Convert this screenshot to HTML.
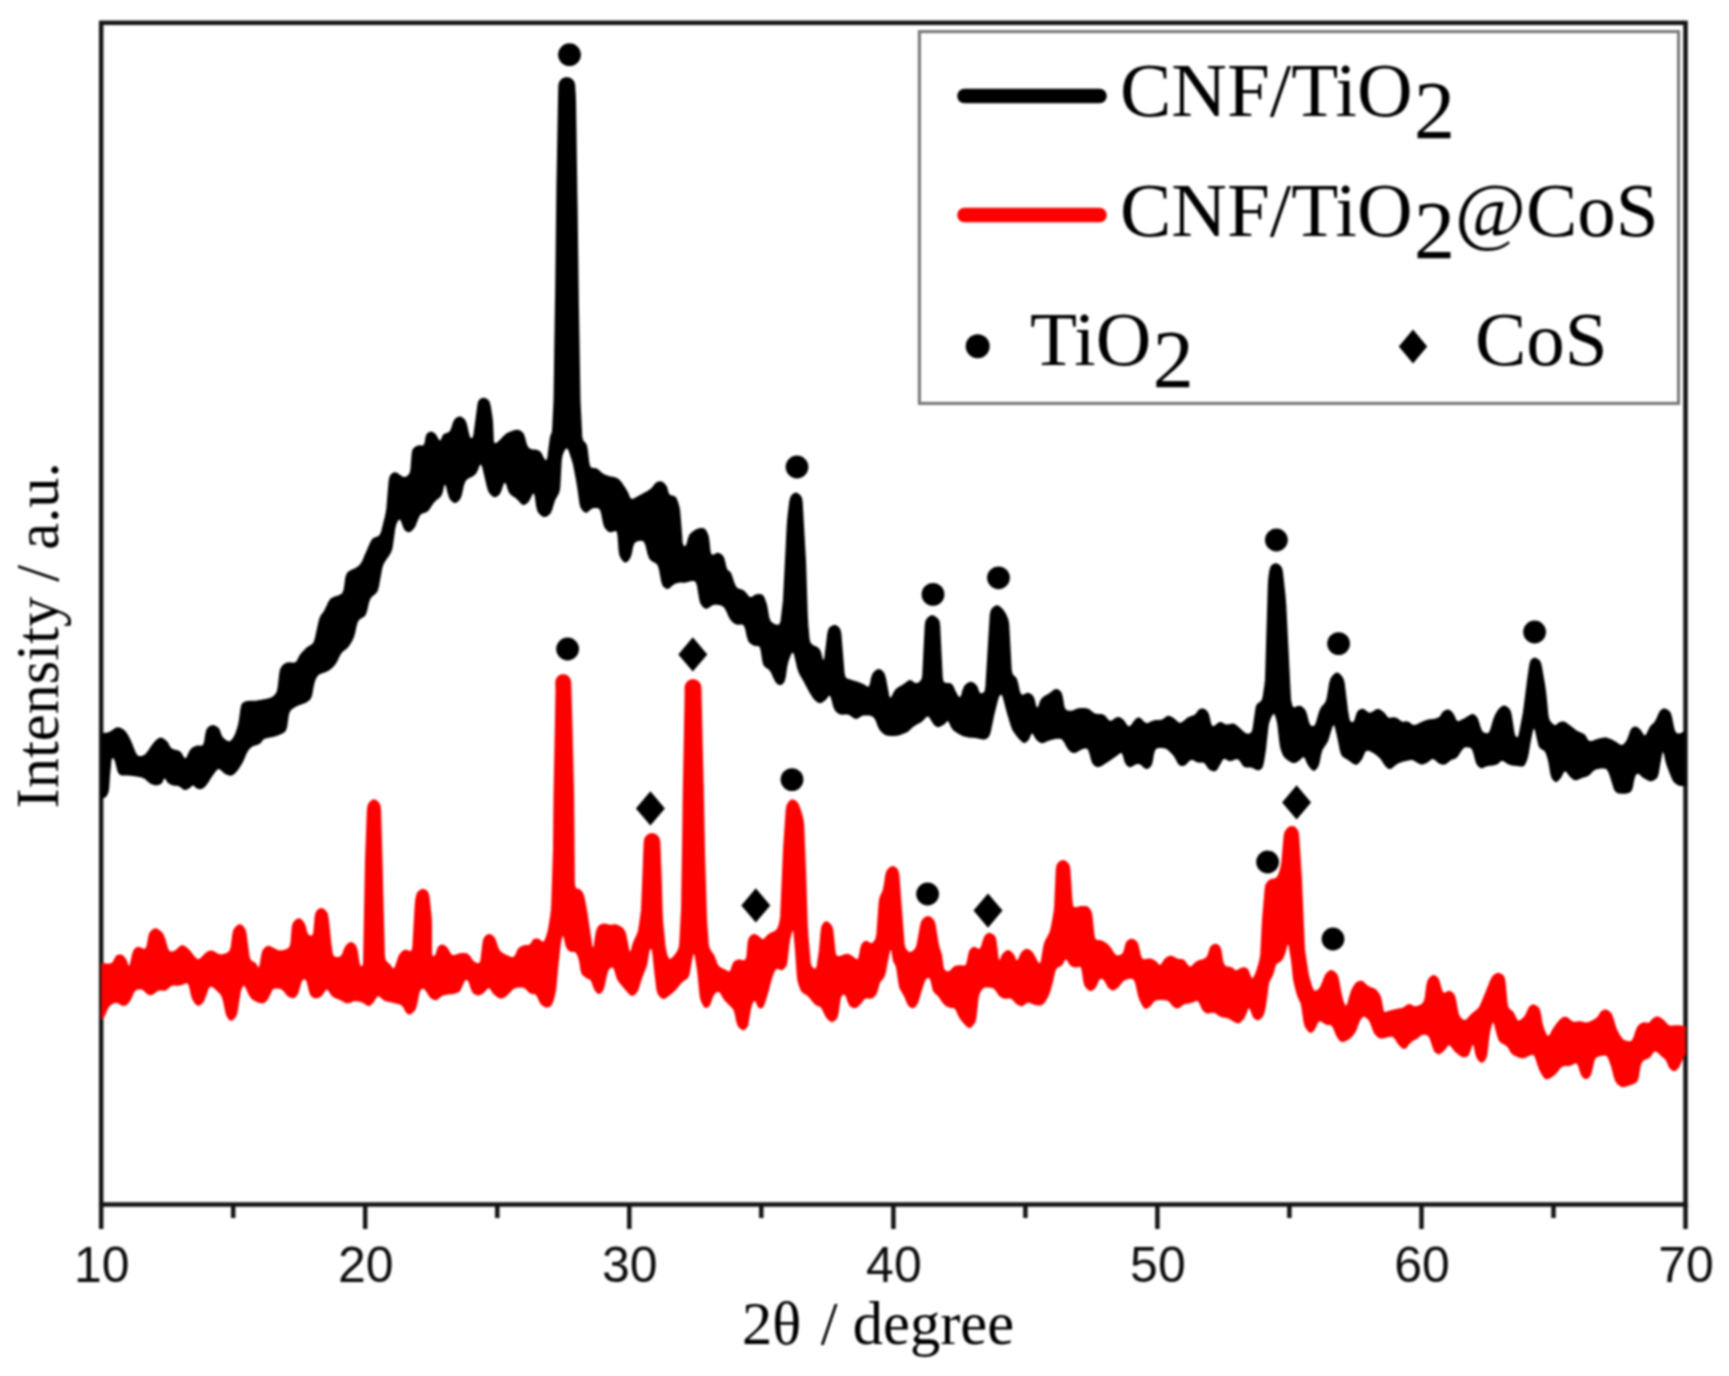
<!DOCTYPE html>
<html lang="en">
<head>
<meta charset="utf-8">
<title>XRD patterns</title>
<style>
html,body{margin:0;padding:0;background:#fff;}
body{width:1729px;height:1376px;overflow:hidden;}
svg{display:block;filter:blur(0.85px);}
</style>
</head>
<body>
<svg width="1729" height="1376" viewBox="0 0 1729 1376">
<rect x="0" y="0" width="1729" height="1376" fill="#fff"/>
<defs><clipPath id="plotclip"><rect x="101.2" y="22" width="1584.3" height="1182"/></clipPath></defs>
<rect x="101.2" y="22.8" width="1584.3" height="1181.7" fill="none" stroke="#141414" stroke-width="4.5"/>
<polygon clip-path="url(#plotclip)" fill="#000" stroke="#000" stroke-width="5.0" stroke-linejoin="round" points="96.5,738.3 96.5,793.1 97.1,795.4 98.2,795.9 101.2,795.9 103.5,795.6 104.5,794.8 105.4,793.3 106.2,791.0 106.8,787.1 107.5,776.4 107.9,771.5 108.4,766.7 108.8,761.8 109.5,757.5 112.5,754.9 115.5,756.9 116.9,759.4 118.1,763.6 119.6,769.7 120.7,772.3 122.0,772.9 124.7,772.9 128.4,773.0 133.0,773.5 138.4,774.2 143.2,775.3 146.9,777.4 149.5,779.8 151.6,781.4 153.3,782.2 154.9,782.7 156.1,782.9 157.4,782.7 158.9,782.2 159.8,781.7 160.5,780.5 161.5,778.2 164.3,774.6 167.6,777.6 168.7,779.8 169.5,780.9 170.6,781.7 172.3,782.5 173.7,783.1 175.2,783.3 177.2,783.3 179.7,783.8 182.1,785.3 184.0,786.9 185.0,787.4 185.5,787.4 186.6,787.0 187.7,786.4 188.8,785.5 190.2,784.0 193.0,782.7 195.7,784.0 197.1,785.5 198.0,786.2 199.0,786.5 200.1,786.7 200.8,786.7 201.6,786.2 202.9,785.2 204.4,783.6 206.3,781.0 208.5,777.4 210.7,774.2 212.7,771.4 214.8,768.5 218.1,766.1 221.8,767.6 224.0,769.8 225.6,771.2 227.4,772.2 229.3,773.0 230.5,773.2 231.5,772.8 233.0,771.8 234.6,770.3 236.5,767.7 238.7,764.3 240.7,760.9 242.3,757.4 243.9,753.5 245.6,750.1 247.4,747.6 249.3,745.8 251.5,744.1 254.2,743.1 256.7,742.5 258.3,741.8 259.3,740.7 260.7,738.7 263.2,736.6 267.0,735.5 270.9,734.8 274.5,734.0 278.0,732.8 281.5,731.3 283.6,729.6 284.7,726.4 286.2,715.6 287.4,710.9 289.7,707.8 292.4,705.9 295.4,704.1 299.7,702.3 305.2,700.3 308.1,698.3 309.6,695.1 311.4,685.3 312.5,680.8 313.8,677.6 315.3,675.0 317.6,672.6 320.8,671.0 324.1,670.0 326.7,669.0 329.0,667.3 331.3,665.3 333.4,662.9 335.3,659.7 337.2,655.5 339.4,651.7 341.9,649.1 344.2,647.5 346.1,645.9 347.9,643.3 349.8,640.1 351.4,636.7 352.7,632.5 354.5,624.2 356.2,619.5 359.2,616.6 361.9,615.3 363.5,613.7 364.7,610.4 366.5,602.2 368.2,597.5 370.9,594.2 373.6,592.2 375.3,590.1 376.4,586.5 379.7,568.3 381.2,563.2 383.9,558.7 386.9,554.6 389.1,550.8 390.3,546.5 392.8,528.5 393.8,524.0 395.1,520.8 397.0,517.9 401.2,516.4 403.6,521.0 405.0,525.1 406.2,527.9 407.3,529.0 408.3,529.6 408.7,529.7 409.6,529.3 411.2,527.9 412.8,526.0 414.3,522.4 416.1,517.6 418.3,513.3 421.6,511.0 424.5,510.3 426.2,509.4 427.9,507.3 429.9,503.9 432.3,500.7 435.0,498.1 437.6,496.2 439.4,494.1 440.6,490.7 441.6,485.8 445.1,478.3 448.5,486.1 450.3,493.5 451.5,497.0 452.8,498.9 454.3,500.2 455.0,500.5 455.7,500.2 457.2,498.9 458.5,497.1 459.6,493.5 461.6,484.2 463.6,479.3 467.3,476.2 471.1,474.5 473.6,472.6 475.4,469.6 477.1,465.1 481.3,459.6 484.5,466.0 489.3,486.5 490.5,490.2 491.9,492.4 493.6,494.1 494.6,494.7 495.2,494.6 496.5,493.9 497.8,492.6 499.2,489.4 501.1,483.7 505.0,477.6 508.6,483.6 510.0,488.6 511.4,491.8 512.9,493.3 515.0,494.6 517.6,496.4 520.1,498.9 522.4,501.5 523.6,502.4 524.0,502.3 525.4,501.4 526.9,499.9 528.4,497.2 530.2,493.2 534.8,488.4 537.1,495.4 538.7,506.6 539.7,510.2 541.2,512.3 543.1,513.9 544.3,514.5 545.4,514.3 547.1,513.3 548.6,511.8 550.0,508.6 551.3,503.9 552.8,499.5 554.5,496.1 556.1,493.5 557.2,490.8 557.8,486.8 559.2,460.8 559.9,455.8 561.3,451.7 563.4,447.7 567.7,444.3 570.9,449.7 573.8,458.5 575.3,463.4 576.3,468.4 578.6,480.6 579.4,485.6 580.2,490.6 581.8,502.6 582.7,506.3 584.0,508.4 585.5,510.0 586.0,510.2 586.5,510.0 588.4,508.1 591.2,506.1 594.4,505.5 598.0,505.5 601.6,507.5 603.4,512.2 605.4,522.5 606.5,526.1 607.8,527.9 609.4,529.2 610.5,529.8 611.6,529.6 614.5,528.3 618.6,529.5 619.9,534.6 621.1,550.7 621.8,554.6 623.1,557.3 624.8,559.6 625.4,560.0 625.6,559.9 627.1,558.4 628.4,556.2 629.5,552.5 630.7,546.2 632.6,541.4 636.4,539.0 640.8,538.1 645.2,539.2 647.6,544.0 650.2,554.4 651.5,557.6 653.3,559.2 656.4,560.6 659.6,563.5 661.3,568.3 663.5,580.5 664.5,583.9 665.7,585.5 667.0,586.4 667.6,586.5 668.4,586.0 670.3,584.1 672.7,582.2 675.1,581.1 677.5,580.5 679.6,580.1 681.5,580.1 682.8,580.3 684.3,580.2 687.4,579.6 691.9,578.4 696.9,579.2 699.2,584.2 701.6,598.5 702.6,602.3 704.0,604.4 705.5,605.9 706.2,606.3 707.4,605.8 710.1,603.8 713.6,602.2 717.5,602.2 721.6,603.0 725.4,605.1 728.2,609.4 730.3,614.3 732.1,617.9 733.8,619.9 735.4,621.3 736.9,622.0 738.6,622.2 741.7,621.8 745.5,623.4 747.5,628.1 749.3,636.5 750.5,639.9 751.7,641.5 753.3,642.5 754.8,643.3 756.2,643.5 758.8,643.5 761.9,645.7 763.2,650.4 764.7,660.5 765.6,663.9 766.9,665.4 769.2,666.7 771.8,669.1 773.9,672.9 775.6,677.0 777.1,680.0 778.4,681.5 779.6,682.5 780.0,682.6 780.4,682.5 781.5,681.6 782.4,680.1 783.3,676.6 784.8,666.5 785.8,661.6 787.3,657.2 789.2,652.6 793.5,647.7 796.5,654.1 799.3,666.5 800.6,670.7 802.2,674.1 804.2,677.4 806.0,680.6 807.5,683.5 808.9,686.2 810.4,689.0 812.1,692.0 814.1,695.3 815.9,697.8 817.5,699.3 819.1,700.4 820.0,700.7 820.9,700.4 822.5,699.3 824.1,698.1 825.3,696.5 827.2,693.7 831.5,692.8 833.6,698.1 835.2,704.4 836.4,708.0 837.8,709.9 839.4,711.3 840.9,712.0 842.6,712.2 845.3,711.8 848.7,712.1 852.0,713.9 854.6,715.8 856.0,716.4 857.2,716.1 859.4,714.5 862.7,713.0 866.7,712.8 871.0,713.2 875.2,715.1 877.9,719.5 879.7,724.4 881.3,728.0 883.1,730.2 885.1,732.0 887.2,733.1 890.1,733.5 893.9,733.5 897.4,733.2 900.5,732.3 903.7,731.0 906.3,729.7 908.3,728.1 910.3,726.1 912.7,724.1 915.4,722.5 918.1,721.1 920.3,719.8 922.2,718.0 924.4,715.3 928.3,713.3 931.7,716.4 933.5,719.7 935.0,722.0 936.3,723.5 937.6,724.5 938.2,724.7 939.3,724.4 941.4,723.2 943.1,722.1 944.1,721.0 945.6,719.0 949.4,718.4 951.6,722.2 952.9,725.5 954.5,728.0 957.4,730.2 961.2,732.5 964.8,734.1 968.3,734.9 972.3,735.2 976.1,735.6 979.5,736.2 982.4,736.9 984.2,737.0 985.4,736.5 986.5,735.6 987.5,734.0 988.5,730.5 990.6,720.4 991.6,715.5 992.8,710.6 995.4,700.2 996.6,696.0 998.1,693.6 1001.0,691.6 1004.2,693.8 1005.6,698.2 1007.2,704.5 1008.5,709.3 1009.8,714.1 1012.9,724.4 1014.4,728.4 1016.1,731.3 1018.0,733.8 1019.9,736.2 1021.8,738.2 1023.6,740.0 1024.3,740.5 1024.5,740.4 1025.6,739.5 1026.8,738.2 1027.7,736.4 1028.8,733.4 1031.9,729.5 1035.4,733.2 1036.9,736.1 1038.1,738.0 1039.5,739.3 1041.1,740.4 1042.2,740.7 1043.7,740.3 1046.3,739.0 1049.6,737.8 1053.5,736.9 1058.0,736.1 1062.8,736.8 1066.1,740.6 1068.2,744.8 1070.0,747.8 1071.6,749.4 1073.1,750.4 1074.0,750.6 1075.5,750.1 1078.1,748.5 1080.9,747.0 1083.4,746.2 1086.5,745.7 1089.8,747.5 1091.6,752.1 1093.2,758.4 1094.4,761.9 1095.7,763.5 1097.0,764.3 1098.1,764.6 1100.2,763.8 1103.4,761.8 1106.6,759.8 1109.9,757.6 1113.3,755.3 1116.0,753.3 1117.8,752.0 1120.1,750.3 1123.7,751.1 1125.4,755.2 1126.4,759.3 1127.4,762.1 1128.5,763.6 1129.6,764.5 1130.1,764.7 1130.9,764.4 1132.7,763.2 1134.9,762.0 1137.0,761.5 1139.1,761.5 1141.4,762.3 1143.7,764.1 1145.6,766.0 1146.4,766.5 1147.0,766.4 1148.3,765.5 1149.4,764.0 1150.4,760.5 1151.8,752.2 1153.8,747.3 1158.1,745.5 1162.6,745.5 1166.7,746.3 1170.2,748.7 1173.2,751.7 1175.8,754.7 1177.8,758.1 1179.5,761.4 1180.7,763.2 1181.5,763.5 1182.7,763.5 1183.8,763.2 1185.2,761.9 1187.3,759.4 1190.5,757.3 1194.2,757.9 1196.8,759.4 1198.5,760.1 1199.8,760.2 1202.1,759.8 1205.2,760.5 1207.6,763.1 1209.4,765.9 1210.8,767.5 1212.3,768.3 1213.9,768.8 1214.6,768.7 1215.6,767.6 1217.2,764.8 1218.7,762.1 1219.8,760.1 1221.1,757.9 1223.8,756.0 1227.1,757.1 1229.1,758.4 1230.2,758.7 1231.7,758.3 1234.7,756.9 1238.8,756.6 1242.0,759.7 1244.1,763.2 1245.5,764.9 1246.5,765.1 1248.6,764.8 1251.5,764.9 1254.4,766.1 1256.7,767.4 1258.0,767.8 1258.7,767.7 1259.6,767.1 1260.5,765.9 1261.4,762.5 1262.7,754.5 1263.5,749.7 1264.0,744.7 1266.0,726.6 1266.9,721.8 1268.4,717.7 1270.3,713.9 1274.1,709.6 1277.3,714.2 1278.4,718.1 1279.4,721.9 1280.1,726.6 1281.9,742.7 1282.6,747.0 1283.7,750.5 1284.9,753.6 1286.4,756.0 1288.7,757.9 1291.8,759.8 1293.9,760.6 1295.0,760.3 1296.6,759.3 1298.3,758.1 1299.6,756.9 1301.5,754.9 1305.3,754.5 1307.6,758.2 1309.0,761.7 1310.3,764.3 1311.9,766.3 1313.5,768.0 1313.9,768.2 1314.0,768.1 1315.3,766.6 1316.5,764.3 1317.5,760.5 1318.6,754.4 1319.9,749.6 1321.9,746.0 1323.9,743.3 1325.6,740.4 1326.9,736.6 1328.3,731.9 1329.5,728.0 1330.4,725.7 1331.8,722.8 1335.9,722.8 1337.4,727.2 1338.4,731.5 1339.4,735.7 1340.4,740.4 1342.4,750.5 1343.5,753.8 1344.9,755.4 1347.0,756.5 1349.5,758.1 1352.1,760.0 1354.6,761.8 1355.8,762.3 1356.5,761.9 1358.1,760.3 1359.7,758.3 1361.0,755.7 1362.4,752.1 1364.6,748.7 1368.2,748.1 1370.9,749.0 1373.4,750.1 1376.1,751.9 1378.9,754.1 1381.6,756.5 1383.7,759.2 1385.4,762.0 1386.9,764.0 1388.3,765.5 1389.5,766.4 1389.8,766.4 1391.2,765.7 1393.8,763.3 1397.2,761.1 1401.2,759.6 1405.5,758.6 1408.8,757.8 1410.8,757.5 1412.4,757.5 1414.4,758.1 1416.9,759.5 1419.5,761.1 1421.3,761.9 1422.5,761.9 1424.1,761.3 1425.7,760.6 1427.5,759.4 1429.7,757.5 1433.2,756.2 1436.5,758.0 1438.7,760.1 1440.2,761.4 1441.6,761.9 1443.1,762.2 1444.2,762.1 1445.5,761.3 1447.5,759.7 1449.7,758.1 1452.1,757.0 1454.0,756.4 1455.2,755.6 1456.6,753.9 1458.2,751.3 1459.8,748.9 1461.1,747.3 1462.5,745.9 1464.7,744.8 1467.5,744.8 1470.6,745.3 1473.8,747.5 1475.6,752.1 1477.2,758.5 1478.4,762.1 1479.6,764.1 1480.9,765.3 1481.5,765.7 1482.2,765.6 1484.0,764.7 1486.7,763.7 1490.0,763.2 1493.3,762.9 1495.6,762.3 1497.1,761.4 1498.9,759.6 1502.1,758.1 1505.5,759.4 1508.0,761.2 1510.0,762.3 1512.1,762.9 1514.7,763.2 1517.2,763.5 1519.7,763.9 1521.6,764.1 1522.3,764.0 1523.1,762.8 1524.4,760.1 1525.5,756.8 1526.4,752.6 1527.7,744.5 1528.6,739.6 1529.5,734.9 1530.6,729.9 1534.0,722.0 1537.4,729.9 1538.5,734.8 1539.4,738.9 1540.1,742.0 1540.7,744.5 1541.4,746.1 1542.4,746.9 1544.4,747.9 1546.8,749.9 1548.3,753.0 1549.4,756.3 1550.4,759.9 1551.3,764.5 1552.6,772.6 1553.5,776.2 1554.6,778.1 1555.8,779.3 1556.0,779.4 1556.2,779.3 1557.5,778.0 1558.9,776.3 1560.1,774.2 1561.6,771.2 1564.8,768.0 1568.4,770.5 1570.3,773.2 1571.8,775.1 1573.3,776.4 1574.6,777.5 1575.4,777.8 1576.6,777.6 1578.7,776.7 1581.2,775.7 1583.6,774.9 1585.8,774.3 1587.5,773.5 1589.2,772.0 1591.3,769.5 1594.4,767.2 1598.6,766.2 1603.2,765.8 1607.8,766.8 1610.6,770.8 1612.1,775.3 1613.4,779.3 1614.7,783.5 1616.0,787.7 1617.3,790.1 1619.0,790.9 1621.9,791.2 1624.6,791.2 1626.8,790.9 1628.5,790.4 1629.5,789.5 1630.5,786.5 1631.6,780.4 1632.7,776.1 1633.9,773.5 1635.7,771.8 1638.6,770.9 1641.2,772.7 1643.0,774.5 1644.7,775.9 1646.8,777.1 1649.2,778.3 1650.9,778.8 1652.3,778.4 1654.1,777.4 1655.4,775.9 1656.4,772.5 1657.7,764.5 1658.5,760.0 1659.2,756.2 1660.0,752.4 1663.6,745.9 1666.4,753.9 1667.4,758.8 1668.6,763.3 1670.2,767.8 1673.5,776.3 1675.1,779.8 1676.6,781.4 1678.3,782.5 1679.8,783.3 1681.2,783.5 1688.9,783.5 1689.1,783.3 1689.5,780.8 1689.5,736.2 1689.1,733.7 1688.9,733.5 1687.4,733.5 1685.7,733.7 1684.0,734.3 1681.9,735.3 1679.3,736.2 1676.9,735.7 1674.6,734.6 1672.8,732.0 1671.6,727.7 1669.6,717.5 1668.5,714.1 1667.3,712.5 1665.8,711.5 1664.7,711.0 1663.9,711.1 1663.0,711.5 1662.0,712.4 1660.6,715.0 1658.9,719.1 1657.1,722.7 1655.1,725.1 1653.4,726.5 1652.1,728.0 1650.6,730.7 1648.8,734.6 1645.8,738.8 1641.8,736.5 1640.2,733.6 1639.0,731.8 1637.7,730.5 1636.3,729.4 1635.5,729.1 1635.0,729.1 1634.0,729.5 1633.2,730.3 1632.0,732.9 1630.7,736.9 1629.2,740.7 1627.4,743.5 1625.3,746.0 1622.1,747.8 1618.5,746.6 1615.9,744.7 1613.6,743.3 1611.0,741.9 1608.1,740.7 1605.7,740.0 1603.4,740.1 1600.6,740.8 1597.8,741.5 1595.2,742.3 1592.1,743.5 1588.3,743.6 1585.6,740.8 1584.2,738.0 1583.0,736.3 1581.3,735.3 1578.7,734.3 1575.9,733.0 1573.5,731.3 1571.4,729.6 1569.4,728.0 1567.2,726.4 1565.0,724.8 1563.4,723.9 1562.5,723.9 1561.3,724.1 1560.3,724.5 1559.3,725.2 1557.7,726.9 1554.5,727.9 1551.4,726.0 1549.0,723.5 1547.0,720.2 1546.0,715.4 1544.0,695.2 1543.4,690.3 1542.7,685.5 1539.4,666.5 1538.4,663.0 1537.3,661.5 1535.8,660.5 1534.9,660.2 1534.3,660.3 1533.4,660.9 1532.5,662.1 1531.7,665.4 1530.2,675.4 1529.5,680.3 1528.9,685.3 1526.1,707.4 1525.4,712.4 1524.5,717.4 1521.4,733.7 1520.2,738.1 1517.1,740.4 1514.1,738.4 1512.7,735.8 1511.8,731.5 1509.3,715.4 1508.4,711.9 1507.1,710.0 1505.6,708.7 1504.5,708.1 1503.9,708.1 1502.9,708.5 1501.7,709.4 1500.0,711.4 1498.1,714.3 1496.5,717.5 1495.1,721.6 1492.7,730.0 1490.6,734.6 1486.8,736.0 1483.1,734.9 1480.2,732.6 1478.3,728.2 1476.9,723.4 1475.7,719.9 1474.4,717.9 1473.2,716.8 1472.6,716.5 1471.4,716.9 1468.9,718.5 1466.2,720.1 1463.5,721.5 1460.4,723.1 1456.4,723.7 1453.8,720.6 1452.7,717.6 1451.7,715.6 1450.5,714.0 1449.1,712.6 1448.3,712.1 1447.5,712.1 1446.0,712.6 1444.8,713.3 1443.8,714.7 1442.3,717.3 1439.4,719.8 1434.9,721.1 1430.1,721.8 1426.0,722.7 1422.5,724.2 1418.6,726.3 1414.4,727.7 1410.8,726.6 1408.5,724.7 1407.2,723.9 1406.1,723.8 1404.1,724.2 1401.2,723.9 1398.6,722.4 1396.6,720.7 1395.1,720.0 1393.4,719.8 1390.7,720.2 1387.4,719.9 1385.1,718.0 1383.9,716.1 1382.9,714.8 1381.2,713.3 1379.1,711.9 1377.9,711.4 1377.1,711.6 1375.3,712.8 1373.4,714.0 1371.9,714.7 1370.2,715.2 1367.8,714.9 1365.5,713.4 1363.6,711.8 1362.6,711.3 1361.8,711.4 1360.4,712.1 1359.4,713.1 1358.4,715.4 1357.4,719.2 1356.0,722.7 1353.5,724.5 1350.4,724.5 1348.0,722.4 1346.9,718.6 1346.2,714.4 1345.5,710.1 1344.9,705.4 1342.2,683.4 1341.2,679.7 1339.7,677.3 1337.8,675.4 1337.0,675.0 1336.2,675.4 1334.3,677.3 1332.7,679.7 1331.6,683.5 1329.3,697.6 1328.0,702.3 1326.0,705.5 1323.9,707.6 1322.4,709.9 1321.0,713.6 1318.7,722.0 1317.0,726.4 1314.2,728.5 1310.8,728.5 1308.0,726.3 1306.4,721.9 1304.8,715.6 1303.6,712.0 1302.2,710.1 1300.6,708.8 1299.5,708.2 1298.4,708.4 1295.9,709.5 1292.1,709.7 1290.0,706.3 1289.2,703.2 1288.6,699.7 1288.3,695.2 1286.8,665.1 1286.3,655.1 1283.8,605.1 1283.4,600.2 1283.0,595.3 1280.5,572.4 1279.7,568.9 1278.5,567.3 1276.9,566.1 1275.9,565.7 1275.0,565.9 1273.6,566.7 1272.6,568.0 1271.8,571.1 1271.1,575.7 1270.6,580.3 1270.3,585.1 1267.6,675.1 1267.4,680.2 1266.8,685.3 1265.2,696.5 1264.0,701.2 1261.6,704.0 1259.6,705.0 1258.6,706.2 1257.8,709.4 1255.1,728.5 1253.9,733.2 1251.1,735.7 1248.0,736.2 1245.1,735.8 1242.4,733.9 1240.2,731.8 1238.3,729.9 1236.4,728.3 1234.6,726.8 1233.3,726.1 1231.7,726.1 1229.0,726.8 1225.8,727.0 1222.9,725.9 1221.0,724.7 1220.3,724.5 1218.8,725.4 1215.8,728.0 1211.0,729.1 1208.6,723.9 1207.5,718.5 1206.5,714.8 1205.4,712.9 1204.0,711.6 1203.1,710.9 1202.5,710.9 1201.4,711.1 1200.6,711.5 1199.7,712.5 1198.3,714.6 1196.2,716.7 1193.6,718.0 1191.2,718.7 1189.2,719.6 1186.9,721.3 1184.0,723.8 1180.3,725.7 1176.6,724.1 1174.3,721.8 1172.5,720.3 1170.8,719.2 1169.2,718.4 1168.4,718.3 1167.4,718.8 1165.4,720.4 1162.7,722.0 1159.6,722.5 1156.8,722.5 1154.6,722.8 1152.4,723.6 1149.4,725.1 1145.6,725.7 1142.4,723.6 1140.2,721.1 1139.0,720.0 1138.7,719.9 1138.4,720.0 1137.5,720.6 1135.7,722.8 1133.2,726.4 1129.4,729.6 1125.5,727.2 1123.6,724.1 1122.1,722.0 1120.5,720.7 1119.0,719.7 1118.1,719.5 1116.7,720.1 1113.8,722.3 1109.8,723.6 1106.3,721.2 1104.1,718.3 1102.6,716.9 1100.7,716.5 1097.8,716.5 1094.3,715.9 1091.2,714.1 1088.9,712.0 1086.9,710.9 1084.5,710.5 1081.4,710.5 1078.8,710.7 1077.0,711.3 1074.9,712.3 1072.3,713.2 1069.5,713.2 1066.3,712.7 1063.2,710.4 1061.7,705.7 1060.4,697.5 1059.4,694.0 1058.3,692.5 1056.9,691.6 1056.2,691.4 1055.4,691.8 1053.5,693.3 1051.1,695.1 1048.3,696.8 1045.4,698.4 1043.4,700.1 1042.0,702.9 1040.6,707.2 1036.6,713.0 1033.6,706.1 1032.6,701.3 1031.5,698.0 1030.3,696.5 1028.9,695.6 1027.9,695.3 1026.7,695.6 1023.8,697.3 1019.6,696.8 1017.5,691.9 1015.7,683.5 1014.6,680.0 1013.5,678.4 1011.7,677.0 1009.9,673.9 1009.2,669.3 1006.8,625.2 1006.2,621.0 1005.0,617.7 1003.5,614.5 1001.8,611.8 1000.0,609.8 998.0,608.1 997.0,607.7 996.0,608.1 994.2,609.7 992.9,611.7 992.2,615.3 987.8,687.3 987.0,691.9 984.9,694.7 981.9,695.9 978.6,695.4 976.7,692.0 975.7,688.9 974.7,686.9 973.4,685.6 971.9,684.6 970.9,684.3 969.7,684.6 967.9,685.7 966.4,687.2 965.0,690.4 963.7,695.2 961.3,700.5 956.9,698.6 955.1,695.5 953.8,693.0 952.4,690.1 951.2,687.3 950.1,685.9 948.7,685.5 945.3,685.5 941.5,683.4 940.3,678.4 937.7,625.3 937.1,621.8 935.6,619.8 933.4,618.2 932.1,617.7 931.0,618.1 929.2,619.7 927.9,621.7 927.2,625.3 924.7,675.3 923.9,680.0 921.8,683.1 919.0,685.0 915.8,685.9 912.7,684.5 910.7,682.8 910.0,682.5 909.3,682.8 907.5,684.3 905.1,686.1 902.3,687.8 899.4,689.4 897.2,691.2 895.6,693.8 893.7,697.8 889.3,702.4 886.7,695.8 883.5,678.5 882.4,674.9 881.2,673.1 879.7,671.8 878.9,671.5 877.9,671.9 876.0,673.2 874.6,675.0 873.4,678.5 872.4,683.8 870.7,688.7 866.7,689.3 864.2,687.4 862.3,686.3 859.2,685.0 855.2,683.7 851.7,682.6 849.0,681.7 846.0,680.9 843.2,678.2 842.1,673.4 838.9,634.3 838.2,630.8 837.1,629.0 835.7,627.8 834.7,627.4 833.6,627.7 831.9,628.6 830.7,630.1 829.8,633.4 827.1,655.4 826.5,659.3 825.5,662.5 821.8,662.5 820.5,659.9 819.6,656.7 818.6,652.8 817.4,650.3 815.5,648.9 812.0,647.5 808.5,644.5 807.1,639.5 805.9,625.2 805.6,620.1 805.3,615.1 803.7,565.1 803.5,560.1 803.2,555.1 800.2,502.3 799.6,498.7 798.4,496.9 796.8,495.5 795.9,495.1 795.2,495.3 793.8,496.3 792.7,497.9 791.8,501.4 790.1,515.3 789.6,520.2 789.2,525.1 785.7,595.2 785.4,600.2 784.9,605.2 783.0,621.6 781.1,626.8 776.3,627.2 772.0,625.5 768.5,622.6 766.7,617.7 765.4,609.4 764.5,605.0 763.3,601.5 762.1,598.4 761.1,596.8 760.2,596.5 758.5,596.5 756.8,596.7 755.3,597.5 752.9,599.1 749.3,599.7 746.2,597.1 744.1,594.3 742.4,592.6 740.5,591.7 737.6,591.0 734.3,588.6 732.2,584.1 730.1,577.6 728.9,574.3 728.1,573.3 726.7,572.6 724.8,570.1 723.6,566.0 722.6,561.3 721.5,558.0 720.3,556.5 718.9,555.6 717.9,555.3 716.7,555.6 713.8,557.3 709.5,556.7 708.0,551.5 707.0,541.3 706.4,537.2 705.4,534.3 704.2,532.0 703.3,530.8 702.3,530.5 700.6,530.5 698.7,530.9 696.3,532.1 693.6,534.0 691.6,535.9 690.4,538.8 689.4,542.7 688.2,546.4 686.0,548.5 682.7,548.5 680.8,545.7 680.1,541.3 677.9,513.2 677.3,508.7 676.3,504.7 675.0,500.9 673.9,498.7 672.8,498.1 670.5,497.7 667.5,496.2 666.0,492.8 665.3,489.6 664.5,487.5 663.4,486.0 662.1,484.6 661.1,483.9 660.1,483.8 658.7,484.1 657.5,484.6 656.3,485.9 654.6,488.3 652.1,490.9 648.7,493.1 644.8,495.2 641.4,497.1 638.2,498.8 634.9,500.7 630.7,501.7 627.8,498.7 626.7,495.6 625.4,492.8 623.2,489.1 619.7,483.8 617.0,480.9 613.4,479.4 608.3,478.4 603.6,476.9 600.1,474.6 597.7,472.2 595.9,470.9 594.4,470.5 591.6,470.5 588.3,468.3 586.9,463.5 585.2,449.4 584.4,445.8 583.5,444.3 581.9,442.9 580.3,439.9 579.7,435.2 578.2,405.1 578.0,400.1 577.9,395.1 576.6,315.0 576.5,310.0 576.4,305.0 575.1,205.0 575.0,200.0 574.9,195.0 573.6,105.0 573.5,100.1 573.3,95.3 573.0,90.4 572.8,86.6 572.6,84.7 572.3,83.7 572.1,83.0 571.6,82.3 571.0,81.5 570.4,80.9 569.8,80.5 568.9,80.1 568.1,79.8 567.3,79.7 566.3,79.7 565.5,79.8 564.7,80.1 563.8,80.5 563.2,80.9 562.6,81.5 562.0,82.3 561.5,83.0 561.3,83.7 561.0,84.7 560.8,86.6 560.7,90.4 560.6,95.3 560.5,100.1 560.4,105.0 559.1,175.0 559.0,180.0 558.9,185.0 557.6,295.0 557.5,300.0 557.4,305.0 556.1,395.0 556.0,400.1 555.8,405.1 554.7,427.6 554.4,431.9 553.7,434.5 553.0,435.8 552.5,437.5 551.9,441.3 550.1,455.4 549.4,459.6 547.9,462.5 544.7,462.5 542.8,460.8 541.1,457.9 539.6,454.7 538.0,452.9 535.6,452.1 531.3,451.8 526.9,449.8 524.4,445.0 522.8,438.6 521.6,435.1 520.3,433.5 518.9,432.6 517.4,432.2 514.7,432.7 510.9,434.0 507.7,435.5 505.1,437.8 502.5,440.7 500.0,443.3 498.0,444.8 495.1,446.3 491.9,444.0 491.3,439.2 490.7,425.1 490.4,420.3 489.7,415.4 488.3,406.5 487.4,403.0 486.3,401.5 484.8,400.6 483.8,400.2 482.8,400.4 481.6,401.0 480.6,402.1 479.8,405.4 476.1,433.4 475.3,437.8 473.3,440.5 469.8,440.5 467.7,438.0 466.5,433.7 464.7,425.5 463.5,422.0 462.2,420.3 460.7,419.3 459.8,418.9 458.9,419.1 457.5,419.9 456.3,421.2 455.0,424.1 453.7,428.6 451.8,432.7 448.8,434.9 446.3,435.7 445.1,436.3 444.3,437.7 443.2,440.6 440.1,444.5 436.6,440.8 435.1,437.9 434.0,436.0 432.9,435.0 431.6,434.3 431.0,434.1 430.4,434.3 429.3,434.9 428.5,435.9 427.8,438.5 427.1,442.7 425.7,446.8 422.4,448.3 419.8,447.8 418.6,447.9 417.2,448.5 415.8,449.5 414.7,450.9 414.1,454.3 412.9,469.4 412.0,474.1 409.8,477.1 406.9,479.0 403.4,479.7 399.7,477.8 396.6,475.4 395.0,474.7 394.2,474.9 392.9,476.0 391.8,477.8 391.1,481.3 388.9,507.3 388.3,512.4 387.2,517.4 383.6,531.9 381.7,536.5 378.5,539.0 375.7,539.7 374.0,540.7 372.3,543.7 370.3,548.4 366.3,557.6 364.2,562.6 361.1,567.1 356.6,570.2 351.9,572.2 349.1,574.3 347.8,577.6 346.2,589.7 344.3,594.8 339.8,597.6 335.3,598.9 332.3,600.5 330.3,603.4 328.4,607.7 326.5,611.6 324.7,614.4 323.2,616.2 322.0,618.4 320.9,622.2 317.3,638.9 315.8,643.5 313.3,646.3 310.8,647.8 308.7,649.2 306.5,651.2 304.0,653.7 302.1,656.0 300.7,658.4 299.3,661.5 296.8,664.5 292.9,665.2 289.6,664.8 287.5,665.0 285.7,666.0 283.9,667.5 282.6,669.5 281.8,673.1 280.1,687.7 279.1,692.4 277.2,695.7 274.8,698.0 271.6,700.0 267.0,701.3 261.6,702.3 257.0,703.0 253.2,703.3 250.0,703.3 247.6,703.5 245.9,704.0 244.6,704.6 243.7,705.7 242.9,709.0 241.5,719.8 240.6,724.6 239.5,728.8 238.1,732.8 236.7,736.4 235.1,739.2 233.1,741.9 230.0,744.1 226.3,743.1 223.2,741.1 220.6,738.7 219.0,735.4 218.0,732.2 217.1,730.1 215.8,728.9 214.0,727.9 212.8,727.6 211.6,727.9 210.0,728.9 208.8,730.3 207.9,733.6 206.6,741.7 205.1,746.5 201.6,748.4 198.8,748.0 197.3,748.0 195.6,748.7 193.8,749.7 192.3,751.1 190.8,753.8 189.1,757.8 185.7,762.2 181.8,758.7 180.1,755.3 178.7,753.5 176.8,752.6 173.6,752.0 170.2,750.5 167.9,747.8 166.5,745.1 165.3,743.2 163.7,741.8 161.9,740.4 160.8,740.1 159.8,740.4 158.0,741.7 156.0,743.7 153.5,747.0 149.6,752.9 146.4,756.6 143.0,758.3 139.4,758.7 135.7,757.2 133.2,752.9 130.1,745.1 128.3,740.9 126.6,737.6 124.8,734.6 123.0,732.3 121.2,730.9 119.1,729.9 117.7,729.7 115.9,730.6 113.0,732.8 109.1,734.8 104.1,735.4 99.3,735.4 97.2,736.1"/>
<polygon clip-path="url(#plotclip)" fill="#fe0000" stroke="#fe0000" stroke-width="5.0" stroke-linejoin="round" points="96.5,968.2 96.5,1014.8 96.9,1017.3 97.1,1017.5 101.2,1017.5 101.2,1017.5 102.7,1014.4 104.8,1009.5 107.1,1005.3 109.8,1002.7 112.8,1001.0 116.2,1000.1 119.7,1001.4 122.4,1003.1 123.8,1003.5 124.7,1003.2 126.3,1001.9 127.8,1000.0 129.4,997.0 131.1,992.8 133.3,989.1 136.5,987.3 139.7,986.8 143.0,987.3 145.9,989.4 148.3,991.8 149.7,992.8 150.2,992.8 151.3,992.4 152.7,991.7 154.2,990.7 156.0,989.2 158.5,987.9 161.4,987.8 163.7,988.2 165.0,988.0 166.4,987.1 168.4,985.0 171.3,983.2 174.7,982.8 177.5,983.2 179.5,983.1 181.7,982.4 184.9,980.8 189.3,981.2 191.5,986.1 193.3,994.5 194.5,998.3 196.0,1000.8 197.7,1002.8 198.4,1003.3 198.7,1003.1 200.2,1001.9 201.8,999.9 203.3,996.4 206.0,988.7 208.6,984.0 212.9,984.2 215.6,986.4 217.7,988.2 219.7,990.2 222.0,992.4 224.0,995.7 225.4,1000.3 227.5,1010.5 228.5,1014.3 229.7,1016.6 231.0,1018.1 231.1,1018.2 231.5,1018.0 233.0,1016.4 234.4,1014.3 235.3,1010.6 237.8,994.5 238.6,990.1 239.7,987.1 241.3,983.9 245.4,982.7 248.2,987.5 250.3,992.3 252.1,995.7 253.6,997.4 255.3,998.5 257.2,999.5 259.3,1000.3 261.7,1000.8 263.0,1000.8 263.9,1000.2 265.4,998.5 266.7,996.4 268.0,993.7 269.5,990.1 271.9,986.7 275.8,985.8 279.5,986.2 282.9,987.3 285.5,989.6 287.3,992.1 288.8,993.8 290.3,994.8 291.9,995.6 292.7,995.8 293.4,995.5 294.5,994.6 295.7,993.0 296.9,989.4 298.3,984.1 299.8,979.8 302.0,977.4 305.2,976.6 308.1,978.8 309.6,983.2 311.3,990.4 312.4,993.7 313.5,995.0 314.9,995.7 316.0,995.9 317.1,995.7 318.7,994.9 320.2,993.8 321.6,991.9 323.5,988.9 327.2,986.1 330.6,989.4 332.4,992.7 334.0,994.6 335.7,995.7 338.3,996.7 341.0,997.8 343.5,999.1 345.7,1000.4 347.2,1000.9 348.6,1000.6 350.9,999.6 353.7,998.8 356.8,998.8 359.8,999.2 362.8,1000.0 365.6,1001.5 367.9,1003.1 368.8,1003.5 369.2,1003.3 370.5,1001.9 371.9,1000.3 373.2,998.4 374.7,995.7 377.8,993.1 381.5,994.9 383.6,997.1 385.5,998.4 387.9,999.2 391.2,999.9 394.4,1000.6 397.2,1001.2 400.2,1002.0 403.3,1003.5 405.4,1006.3 406.9,1009.1 407.9,1010.9 408.7,1011.6 409.3,1011.9 409.5,1011.9 410.5,1011.3 412.2,1009.9 413.5,1008.1 414.6,1004.5 416.6,994.3 417.8,990.0 419.6,987.4 422.4,986.0 425.6,986.7 428.0,989.9 430.1,993.3 431.8,995.7 433.3,996.9 434.7,997.6 435.6,997.7 436.9,997.0 439.2,994.9 442.4,993.1 446.2,992.2 450.1,991.8 453.1,991.5 455.3,990.9 456.8,990.4 458.0,989.5 459.4,987.0 461.1,982.9 462.8,979.4 465.1,977.5 468.0,977.5 470.2,979.7 471.7,983.5 473.0,987.8 474.3,990.7 475.5,991.9 476.9,992.7 478.0,992.9 479.1,992.7 480.8,991.8 482.3,990.8 483.8,989.3 485.7,987.0 489.2,985.0 492.3,987.7 493.8,990.3 495.1,992.1 496.9,993.7 499.0,995.2 500.4,995.9 501.5,995.9 503.0,995.4 504.6,994.4 506.8,992.3 509.6,989.2 512.9,986.4 516.8,985.2 520.7,984.8 524.6,985.2 527.7,987.5 529.8,989.9 531.2,991.2 532.3,991.5 534.6,991.5 537.6,992.9 539.6,996.2 541.0,999.6 542.2,1002.0 543.6,1003.4 545.2,1004.5 546.4,1005.0 547.5,1004.9 548.7,1004.5 549.7,1003.5 551.0,1000.6 552.3,996.0 553.3,991.5 554.0,986.7 555.1,974.7 555.5,969.8 556.0,964.8 558.0,946.7 558.6,942.2 559.2,938.8 560.1,935.4 564.1,930.9 566.4,938.0 567.4,942.8 568.4,946.2 569.3,947.8 570.3,948.7 571.1,949.3 572.2,949.5 574.5,949.5 577.4,950.6 579.2,953.5 580.4,956.6 581.4,959.9 582.1,964.2 582.8,968.9 583.6,972.2 584.5,973.6 585.8,974.7 587.3,975.7 588.7,976.4 590.7,977.2 592.9,979.2 594.3,982.4 595.4,985.9 596.4,988.4 597.6,990.0 598.8,991.3 599.0,991.4 599.2,991.3 600.4,990.1 601.5,988.2 602.5,984.5 604.6,974.3 605.9,969.8 607.8,967.0 610.6,964.7 614.6,965.1 616.7,969.8 618.1,974.6 619.4,978.3 620.7,980.5 622.3,982.4 625.6,986.4 627.3,988.4 628.8,990.2 630.4,991.9 631.8,993.3 632.1,993.4 632.7,993.2 634.2,991.9 635.6,990.0 636.9,986.6 638.3,981.9 639.7,977.3 641.3,973.1 643.0,969.1 644.4,965.1 645.4,960.6 646.7,952.5 647.7,948.2 650.6,945.1 653.5,948.0 654.4,950.5 655.0,954.7 656.0,964.8 656.5,969.7 657.1,974.7 658.8,988.6 659.7,992.3 661.0,994.4 662.6,996.0 663.4,996.5 664.0,996.4 665.6,995.3 667.6,993.8 669.7,992.1 672.0,990.1 674.1,988.1 676.0,985.8 678.1,983.1 680.4,980.5 682.9,978.6 685.1,977.4 686.4,975.9 687.4,972.5 688.7,964.5 689.5,960.1 690.2,956.8 691.1,953.4 695.3,948.9 697.3,956.4 698.6,964.7 699.4,969.7 700.0,974.7 702.0,994.7 702.7,998.8 703.9,1001.9 705.4,1004.6 706.1,1005.4 706.7,1005.0 707.8,1003.9 709.0,1001.1 710.3,997.1 712.0,993.4 714.0,991.1 716.7,989.5 720.2,989.5 722.7,992.6 724.5,995.8 726.1,998.3 727.8,1000.3 734.7,1007.2 736.2,1010.0 737.4,1014.4 738.5,1020.5 739.6,1024.1 740.8,1025.9 742.4,1027.2 743.1,1027.6 743.4,1027.4 744.6,1026.5 745.4,1025.5 745.9,1024.1 746.2,1021.9 746.7,1018.9 747.5,1014.6 748.6,1008.4 749.6,1004.1 750.8,1001.4 752.5,999.2 756.1,998.0 758.3,1001.5 759.3,1004.3 760.0,1005.6 760.6,1006.0 760.9,1006.0 761.0,1006.0 762.3,1003.3 764.0,998.0 765.5,993.3 766.8,988.5 768.4,982.2 769.6,977.6 771.0,973.8 772.5,970.1 774.8,966.6 778.5,966.5 780.8,967.6 781.5,967.7 782.1,967.3 783.3,966.1 784.4,964.3 785.1,960.6 786.9,944.6 787.6,939.8 788.6,935.5 789.7,931.1 793.8,922.7 795.9,932.6 797.0,944.8 797.5,949.8 797.8,954.8 799.2,974.8 799.7,979.3 800.7,983.3 802.0,987.1 803.3,989.9 804.8,991.3 807.1,992.6 809.7,994.6 812.2,997.4 814.6,1000.4 816.5,1002.5 818.0,1003.4 820.2,1004.1 822.8,1006.0 824.9,1009.5 826.6,1013.2 828.1,1016.1 829.7,1017.9 831.3,1019.2 832.0,1019.5 832.7,1019.2 834.1,1018.0 835.3,1016.2 836.2,1012.6 837.9,1000.5 838.8,996.1 840.6,993.4 843.5,991.9 846.8,993.2 848.6,997.0 850.0,1001.1 851.2,1003.8 852.4,1004.9 853.8,1005.6 854.6,1005.7 855.6,1005.2 857.4,1003.8 859.0,1002.2 860.3,1000.6 861.8,998.3 864.2,996.2 867.3,995.8 869.8,996.2 871.0,996.1 872.1,995.4 873.4,994.1 874.6,992.3 875.6,989.3 876.6,985.3 877.9,981.5 879.7,978.8 881.4,977.1 882.5,975.2 883.5,971.5 885.6,960.4 886.5,956.0 887.2,952.8 888.0,949.5 892.3,944.2 894.1,952.2 894.8,957.0 895.5,960.4 896.2,962.1 897.2,963.4 898.3,966.2 899.1,970.6 900.8,982.6 901.6,986.7 902.9,989.5 904.5,992.1 906.2,995.0 907.6,998.3 909.0,1001.7 910.1,1003.9 911.2,1005.0 912.3,1005.6 912.5,1005.7 913.1,1005.4 914.4,1004.1 915.7,1002.1 916.9,998.6 918.3,993.9 919.6,989.4 920.9,985.3 922.3,981.1 924.0,977.4 926.5,975.5 929.7,975.5 932.1,977.8 933.4,982.0 934.4,986.8 935.4,990.1 936.5,991.6 938.0,992.8 940.0,994.8 942.0,997.5 944.0,1000.6 945.8,1002.7 947.3,1003.9 949.0,1004.7 950.6,1005.3 951.8,1005.5 954.0,1005.5 956.7,1007.0 958.6,1010.2 960.0,1013.7 961.4,1016.5 963.3,1019.1 965.5,1021.7 967.5,1023.8 968.9,1025.1 969.5,1025.5 970.2,1024.9 971.9,1022.9 973.3,1020.5 974.1,1016.6 976.0,998.6 976.9,993.9 978.5,990.4 980.5,987.6 983.4,985.3 987.3,984.8 991.2,985.2 994.9,986.4 997.6,989.1 999.4,992.0 1000.8,993.9 1002.1,995.0 1003.4,995.7 1004.6,996.2 1006.1,996.2 1008.7,995.8 1011.8,996.2 1014.4,998.2 1016.2,1000.3 1017.7,1001.8 1019.2,1002.8 1020.8,1003.6 1021.6,1003.7 1022.6,1003.2 1024.6,1001.5 1027.6,1000.1 1030.8,1000.6 1033.0,1001.7 1034.9,1002.4 1037.0,1002.9 1039.3,1003.1 1040.7,1002.9 1042.1,1001.7 1043.9,999.2 1045.6,996.5 1047.0,993.2 1048.3,989.2 1049.5,985.1 1050.7,980.5 1052.5,972.2 1054.1,967.7 1056.6,965.2 1058.9,964.4 1060.1,963.7 1061.2,962.1 1062.6,959.2 1066.0,955.8 1069.4,959.2 1070.8,962.1 1071.9,963.7 1073.1,964.4 1074.6,964.9 1075.9,965.1 1076.9,964.9 1079.5,963.9 1082.9,965.7 1084.2,970.4 1085.7,980.6 1086.6,984.3 1088.0,986.4 1089.6,988.0 1090.4,988.5 1091.0,988.4 1092.4,987.4 1093.8,986.0 1095.0,983.6 1096.4,980.2 1098.4,976.8 1101.6,976.0 1104.1,977.2 1105.9,978.9 1107.5,981.4 1108.9,984.1 1110.0,986.0 1111.1,987.0 1112.4,987.7 1113.0,987.9 1113.6,987.7 1114.9,986.9 1116.3,985.8 1118.0,983.8 1120.2,981.0 1123.0,978.3 1126.6,976.9 1130.8,976.1 1135.2,977.3 1137.5,982.1 1140.3,994.5 1141.6,998.7 1143.2,1002.1 1145.0,1005.2 1146.0,1006.3 1146.1,1006.2 1147.5,1005.3 1149.1,1004.1 1150.3,1002.5 1151.9,1000.2 1154.8,998.1 1159.1,997.5 1163.9,997.5 1168.3,998.2 1171.5,1000.5 1173.3,1003.1 1174.7,1004.7 1175.8,1005.4 1176.9,1005.9 1177.5,1005.9 1178.6,1005.3 1180.6,1003.6 1183.2,1002.0 1186.2,1001.2 1189.0,1000.9 1191.1,1000.4 1193.0,999.7 1195.5,998.5 1199.2,998.6 1201.5,1002.1 1203.0,1005.7 1204.2,1008.1 1205.4,1009.5 1206.7,1010.5 1207.6,1011.0 1208.9,1010.9 1211.3,1010.2 1214.5,1010.1 1217.4,1011.6 1219.5,1013.3 1221.2,1014.3 1223.1,1014.9 1225.8,1015.2 1228.7,1015.9 1231.2,1017.2 1233.4,1018.6 1235.1,1019.6 1236.7,1020.4 1237.8,1020.8 1238.3,1020.8 1239.4,1020.1 1241.1,1018.3 1242.6,1016.3 1244.0,1013.2 1245.4,1008.9 1249.0,1003.5 1252.6,1008.9 1254.0,1013.1 1255.2,1015.9 1256.3,1017.0 1257.3,1017.6 1257.7,1017.7 1258.6,1017.3 1260.2,1015.9 1261.4,1014.1 1262.5,1010.5 1263.6,1004.5 1264.4,999.6 1265.1,994.7 1266.0,986.6 1266.8,982.0 1268.1,978.8 1269.5,976.7 1270.6,974.6 1271.6,971.4 1272.6,967.2 1274.1,963.3 1276.5,961.0 1278.7,959.9 1279.9,958.8 1281.1,956.9 1282.4,954.0 1283.4,951.2 1284.2,948.1 1285.0,944.4 1288.9,937.5 1291.3,946.4 1292.6,954.7 1293.4,959.7 1294.0,964.7 1295.0,974.7 1295.6,979.5 1296.6,984.3 1298.2,990.5 1299.4,994.6 1300.6,997.6 1302.0,1000.4 1303.3,1003.9 1304.1,1008.6 1305.8,1020.6 1306.7,1024.6 1308.1,1027.3 1309.9,1029.6 1310.6,1030.3 1311.6,1029.5 1312.8,1028.1 1314.0,1025.7 1315.5,1022.1 1318.2,1018.5 1322.3,1019.3 1325.0,1021.2 1326.8,1022.2 1328.2,1022.5 1330.7,1022.5 1333.8,1024.3 1335.9,1028.2 1337.7,1032.7 1339.2,1036.1 1340.6,1038.0 1341.8,1039.3 1342.5,1039.6 1343.8,1039.3 1346.1,1038.1 1348.3,1036.8 1350.2,1035.0 1352.0,1032.8 1353.6,1030.4 1355.0,1027.2 1356.3,1023.1 1357.8,1019.5 1359.4,1017.1 1361.2,1015.2 1364.0,1013.9 1366.9,1015.2 1369.1,1016.9 1371.2,1019.5 1373.0,1023.7 1374.7,1028.4 1376.2,1032.0 1377.8,1033.9 1379.5,1035.3 1380.7,1036.1 1381.5,1036.1 1382.8,1035.9 1384.7,1035.5 1387.0,1034.9 1390.2,1034.1 1394.1,1034.6 1397.0,1037.8 1399.1,1041.3 1400.9,1043.8 1402.5,1045.3 1404.0,1046.3 1404.3,1046.4 1405.2,1045.6 1407.1,1043.1 1409.3,1040.5 1411.7,1038.9 1413.8,1037.8 1415.6,1036.7 1417.4,1035.4 1419.6,1033.6 1422.4,1032.1 1425.4,1032.2 1428.3,1033.1 1431.0,1035.5 1432.8,1039.9 1434.9,1046.4 1436.2,1049.8 1437.3,1051.1 1438.3,1051.6 1438.7,1051.7 1439.6,1051.3 1441.4,1049.8 1443.0,1048.2 1444.3,1046.6 1445.9,1044.1 1449.4,1042.1 1452.8,1044.9 1455.0,1047.8 1456.9,1050.1 1459.2,1052.0 1461.7,1053.9 1463.5,1054.8 1464.6,1054.8 1465.7,1054.5 1466.7,1053.5 1468.0,1050.6 1469.4,1045.7 1473.2,1038.5 1476.3,1046.2 1477.5,1052.5 1478.6,1056.2 1479.9,1058.4 1481.5,1060.0 1481.9,1060.2 1482.0,1060.1 1483.2,1058.6 1484.3,1056.4 1485.1,1052.6 1486.9,1036.6 1487.6,1031.8 1488.6,1027.5 1489.7,1023.1 1493.0,1016.4 1496.3,1023.1 1497.4,1027.4 1498.4,1031.2 1499.4,1034.6 1500.3,1037.8 1501.4,1039.9 1503.0,1041.2 1505.7,1042.5 1508.5,1044.6 1510.8,1047.6 1512.4,1050.6 1514.1,1052.6 1516.7,1054.0 1520.1,1055.3 1522.7,1055.9 1524.2,1055.6 1525.9,1054.7 1527.9,1053.8 1529.7,1053.0 1532.4,1052.0 1535.8,1053.5 1537.8,1057.9 1539.9,1064.4 1541.4,1068.6 1543.2,1072.1 1545.1,1075.2 1546.3,1076.7 1546.8,1076.8 1548.1,1076.3 1549.7,1075.6 1551.5,1074.4 1553.4,1072.8 1555.1,1071.1 1556.7,1069.2 1558.5,1066.6 1561.2,1064.3 1564.7,1063.5 1567.9,1063.5 1570.1,1063.2 1571.8,1062.5 1574.4,1060.8 1578.5,1061.1 1580.7,1065.7 1582.1,1070.6 1583.3,1074.0 1584.5,1075.6 1585.6,1076.5 1586.0,1076.6 1586.4,1076.5 1587.5,1075.6 1588.6,1074.0 1589.7,1070.5 1591.5,1062.2 1592.9,1057.8 1595.2,1055.2 1597.5,1054.3 1599.5,1053.7 1601.9,1053.2 1604.9,1052.8 1608.4,1053.9 1610.6,1057.6 1612.0,1061.6 1613.4,1065.6 1614.6,1070.2 1616.2,1076.4 1617.5,1080.1 1619.1,1082.3 1621.1,1083.9 1622.7,1084.7 1624.5,1084.5 1627.2,1083.6 1630.0,1082.7 1632.4,1081.7 1634.3,1080.9 1635.4,1079.7 1636.4,1076.5 1637.7,1068.5 1638.6,1064.1 1639.8,1061.4 1641.1,1059.6 1642.8,1058.1 1645.0,1057.0 1647.0,1056.4 1648.2,1055.6 1649.6,1053.9 1651.4,1051.0 1654.6,1048.2 1658.4,1049.9 1660.8,1052.2 1662.6,1054.0 1664.2,1055.4 1666.1,1056.9 1667.9,1058.9 1669.3,1061.6 1670.3,1064.4 1671.2,1066.2 1672.4,1067.5 1673.6,1068.5 1674.0,1068.6 1674.4,1068.5 1675.6,1067.5 1677.0,1065.8 1678.7,1062.4 1680.8,1057.5 1683.3,1053.3 1686.7,1051.5 1688.9,1051.5 1689.1,1051.3 1689.5,1048.8 1689.5,1031.2 1689.1,1028.7 1688.9,1028.5 1687.3,1028.5 1684.8,1028.4 1682.1,1028.2 1679.4,1027.8 1677.0,1027.7 1674.6,1027.8 1671.7,1028.2 1668.3,1027.8 1665.6,1025.9 1663.8,1023.6 1662.2,1022.0 1660.6,1020.7 1658.8,1019.5 1657.7,1019.0 1656.9,1019.1 1655.7,1019.6 1654.6,1020.2 1653.5,1021.3 1652.1,1023.1 1649.8,1024.9 1646.9,1025.2 1644.8,1024.8 1643.6,1024.9 1642.2,1025.5 1640.7,1026.6 1639.3,1028.2 1637.9,1031.6 1635.8,1038.2 1633.3,1042.8 1629.1,1043.9 1625.1,1043.0 1621.7,1041.4 1619.0,1038.2 1616.8,1034.5 1614.8,1030.6 1613.2,1026.0 1611.0,1018.6 1609.7,1015.2 1608.3,1013.6 1606.8,1012.5 1605.7,1012.0 1604.9,1012.1 1603.8,1012.6 1602.8,1013.2 1601.8,1014.7 1600.4,1017.1 1598.2,1019.7 1594.9,1021.8 1591.3,1023.7 1587.7,1024.9 1584.6,1024.8 1582.3,1024.1 1580.6,1023.8 1578.6,1023.8 1575.7,1024.2 1572.3,1023.9 1569.2,1022.1 1566.8,1020.0 1565.5,1019.2 1564.8,1019.2 1563.8,1019.6 1562.4,1020.5 1560.3,1022.9 1557.6,1026.2 1555.3,1029.4 1553.6,1032.5 1551.7,1036.2 1547.7,1039.8 1544.2,1035.3 1542.3,1030.8 1540.8,1026.4 1539.7,1021.5 1538.4,1013.5 1537.4,1010.0 1536.3,1008.5 1534.8,1007.5 1533.7,1007.0 1532.9,1007.1 1532.0,1007.5 1531.1,1008.3 1530.0,1010.4 1528.6,1013.8 1526.8,1017.1 1524.4,1019.8 1521.6,1022.2 1517.4,1023.6 1514.5,1020.0 1513.0,1016.4 1511.8,1014.0 1510.4,1012.6 1508.2,1011.1 1506.0,1008.1 1505.1,1003.4 1503.0,981.4 1502.2,978.1 1501.1,976.6 1499.3,975.6 1498.1,975.3 1497.1,975.6 1495.6,976.6 1494.1,978.1 1492.6,981.0 1491.0,985.0 1489.3,989.1 1487.5,993.6 1483.1,1004.4 1480.9,1008.8 1478.0,1011.8 1475.2,1014.0 1472.9,1015.9 1470.9,1018.0 1468.7,1020.6 1465.4,1022.8 1461.8,1021.6 1459.1,1019.4 1457.0,1016.3 1455.7,1011.6 1453.5,999.5 1452.5,996.1 1451.3,994.5 1449.9,993.6 1449.0,993.3 1448.1,993.6 1445.6,995.3 1441.5,994.8 1439.4,989.9 1437.8,983.6 1436.6,980.1 1435.3,978.5 1434.0,977.6 1433.4,977.5 1432.6,978.0 1431.0,979.6 1429.7,981.7 1428.8,985.4 1427.1,998.6 1425.6,1003.5 1422.4,1006.4 1418.8,1008.1 1415.2,1008.9 1411.9,1008.0 1409.9,1006.6 1409.2,1006.4 1408.4,1006.8 1406.4,1008.4 1403.8,1010.0 1400.8,1010.8 1398.0,1011.1 1395.4,1011.6 1392.4,1012.4 1389.0,1013.4 1386.4,1014.2 1385.0,1014.5 1382.6,1014.5 1381.4,1011.5 1380.6,1007.6 1379.5,1001.5 1378.5,997.5 1377.2,995.0 1375.7,992.9 1374.2,991.3 1372.3,990.3 1369.6,989.3 1366.8,987.9 1364.3,985.9 1362.4,983.9 1361.2,983.2 1360.4,983.2 1359.0,983.6 1357.8,984.4 1356.4,986.1 1354.8,988.6 1353.4,991.5 1352.1,995.5 1349.7,1004.1 1346.4,1010.5 1342.4,1005.2 1340.9,1000.7 1339.7,996.4 1338.7,991.6 1336.5,979.5 1335.4,976.0 1334.0,974.2 1332.1,972.9 1331.1,972.5 1330.3,972.8 1328.8,974.1 1327.2,976.0 1325.7,979.6 1324.0,984.3 1322.0,988.6 1319.7,991.2 1316.6,993.3 1312.5,992.8 1310.2,988.2 1308.1,981.5 1306.7,976.5 1305.8,971.5 1303.3,955.3 1302.6,950.2 1302.3,945.1 1299.7,885.1 1299.5,880.1 1299.2,875.2 1296.8,837.2 1296.4,833.4 1295.7,831.5 1295.0,830.2 1294.2,829.4 1293.5,828.9 1292.6,828.5 1292.0,828.4 1291.4,828.5 1290.4,828.9 1289.6,829.4 1288.5,830.5 1287.5,831.8 1286.6,833.6 1286.0,837.3 1283.9,861.3 1283.2,866.2 1282.1,870.7 1280.6,875.0 1278.7,878.9 1275.5,880.7 1272.9,881.1 1271.3,881.6 1270.0,882.6 1268.7,883.9 1267.7,885.7 1267.1,889.3 1264.9,915.2 1264.5,920.2 1264.2,925.1 1262.8,953.2 1262.2,958.3 1261.1,963.2 1259.7,968.1 1258.3,972.4 1257.0,975.7 1255.3,979.0 1251.2,982.0 1248.4,977.1 1247.0,972.9 1245.9,970.6 1245.1,970.0 1243.8,969.8 1242.6,969.9 1241.2,970.5 1239.1,971.9 1236.1,973.0 1233.2,971.8 1231.7,970.3 1230.7,969.6 1228.9,969.1 1225.7,968.7 1222.4,966.4 1220.8,961.7 1219.3,952.4 1218.5,948.9 1217.5,947.4 1216.4,946.5 1215.7,946.2 1214.9,946.4 1213.5,947.1 1212.4,948.1 1211.4,950.7 1210.3,954.9 1208.2,959.0 1204.3,961.3 1200.4,962.4 1197.7,963.5 1195.8,965.1 1193.5,967.7 1189.7,969.6 1186.1,966.7 1184.0,963.5 1182.5,961.9 1181.6,961.5 1179.8,961.5 1177.2,961.1 1174.6,959.9 1172.3,958.6 1170.9,958.2 1169.8,958.4 1168.3,959.1 1166.8,960.2 1165.4,962.1 1163.6,964.9 1160.7,967.9 1157.1,966.4 1155.5,964.3 1154.3,963.1 1152.8,962.2 1151.1,961.3 1149.6,960.9 1147.8,961.1 1144.6,961.9 1140.5,960.6 1138.5,955.9 1136.7,947.5 1135.5,944.1 1134.3,942.5 1132.8,941.6 1131.8,941.2 1130.8,941.4 1129.5,942.1 1128.4,943.2 1127.4,946.0 1126.4,950.4 1124.8,954.6 1121.9,956.9 1118.5,957.9 1114.8,957.4 1112.0,954.2 1109.9,950.7 1108.0,948.0 1105.8,945.9 1103.3,944.1 1101.2,942.9 1099.4,942.5 1096.6,942.5 1093.3,940.3 1092.0,935.5 1090.1,917.3 1089.4,913.4 1088.5,911.2 1087.4,909.6 1086.5,908.8 1085.1,908.5 1082.7,908.5 1080.4,908.6 1078.3,909.1 1075.2,910.0 1071.3,908.4 1070.2,903.4 1067.9,869.3 1067.2,865.9 1065.9,864.2 1064.1,862.9 1063.0,862.5 1061.9,862.9 1060.1,864.1 1058.9,865.8 1058.3,869.3 1056.7,905.2 1056.3,910.3 1055.6,915.3 1053.3,927.6 1052.1,932.4 1050.2,936.5 1048.2,939.9 1046.7,943.2 1045.6,947.4 1043.2,961.8 1040.3,968.2 1035.7,962.9 1033.0,957.7 1031.1,954.3 1029.4,952.6 1027.9,951.6 1027.0,951.3 1026.1,951.6 1024.6,952.6 1023.2,954.0 1022.0,956.4 1020.5,959.9 1017.4,964.5 1013.8,960.7 1012.7,957.7 1011.7,955.7 1010.3,954.2 1008.7,952.8 1008.0,952.5 1007.3,952.8 1005.7,954.2 1004.3,955.7 1003.3,957.7 1002.1,960.9 997.5,964.6 996.0,957.4 994.1,941.4 993.3,938.1 992.1,936.6 990.3,935.6 989.2,935.3 988.6,935.5 987.5,936.4 986.3,938.0 985.1,941.4 983.7,946.3 981.5,950.9 977.4,951.2 974.9,949.6 974.1,949.3 973.6,949.5 972.5,950.4 971.5,951.9 970.5,955.5 969.3,961.7 967.8,966.4 964.5,968.3 961.7,967.8 960.0,967.7 958.3,967.8 956.6,968.1 955.4,968.6 954.2,969.7 952.4,971.8 949.9,973.8 946.9,973.8 944.1,972.7 941.9,970.0 940.9,965.5 940.1,959.3 939.5,955.1 938.6,952.1 937.6,949.4 936.6,946.0 935.8,941.5 933.3,925.5 932.3,922.0 930.9,920.2 929.1,918.9 928.0,918.5 926.9,918.9 925.1,920.2 923.6,922.0 922.6,925.5 919.3,943.6 918.0,948.3 915.9,951.4 913.3,953.5 910.0,954.9 906.9,953.4 904.6,951.2 902.9,948.0 902.1,943.3 899.9,915.2 899.5,910.2 899.1,905.2 896.9,875.3 896.2,871.8 895.1,870.0 893.7,868.8 892.9,868.5 891.9,868.9 890.1,870.2 888.7,872.0 887.7,875.5 886.2,885.5 885.3,890.1 884.0,893.6 882.6,896.3 881.7,899.2 881.1,903.3 878.9,933.3 878.2,937.9 876.9,941.1 875.2,943.7 872.4,945.9 869.0,945.0 866.9,943.6 866.1,943.3 865.6,943.5 864.5,944.4 863.5,945.9 862.5,949.5 861.4,955.6 860.2,960.1 857.1,962.4 854.6,960.7 853.2,959.8 851.2,958.4 849.1,956.9 847.6,956.2 846.0,956.4 843.5,957.4 840.9,958.2 838.9,958.5 836.2,958.5 833.9,955.9 833.0,951.4 831.0,931.4 830.2,927.8 828.8,925.7 826.9,924.1 826.3,923.8 826.0,923.9 824.8,925.4 823.7,927.5 823.1,931.3 821.9,945.2 821.4,950.3 820.7,955.3 819.2,965.6 817.7,970.6 813.7,971.3 810.7,969.0 808.9,966.0 808.1,961.3 805.9,935.2 805.6,930.1 805.3,925.1 803.7,875.1 803.5,870.1 803.3,865.1 801.7,825.2 801.2,820.5 800.1,815.9 798.1,809.6 796.8,806.0 795.9,804.3 795.0,803.4 794.1,802.6 793.4,802.2 792.5,801.9 792.3,801.9 792.1,801.9 791.5,802.3 790.9,802.9 790.1,804.0 789.3,805.4 788.6,807.4 788.1,811.2 785.8,845.2 785.5,850.1 785.3,855.1 782.7,915.2 782.3,919.9 781.4,923.9 780.3,927.7 778.4,931.2 775.3,933.5 772.1,934.9 769.8,936.2 768.2,937.7 766.4,939.8 763.8,942.0 760.8,941.3 759.3,939.8 758.2,938.9 756.6,937.7 754.9,936.6 754.2,936.4 753.4,936.8 751.9,938.0 750.7,939.8 750.0,943.3 748.9,956.5 747.5,961.5 743.5,962.9 740.2,962.1 738.5,962.0 737.4,962.3 736.2,963.0 735.3,964.0 734.4,966.1 733.3,969.6 731.7,973.1 728.4,974.0 726.2,972.9 724.6,972.1 722.2,970.9 719.3,969.4 716.4,967.1 714.7,963.6 713.6,960.1 712.5,957.3 711.0,954.8 708.8,951.9 707.0,948.2 706.2,943.3 704.9,925.2 704.6,920.1 704.4,915.1 702.6,855.1 702.5,850.1 702.4,845.1 701.4,795.1 701.3,790.1 701.2,785.1 700.2,745.1 700.1,740.1 700.0,735.1 699.2,700.1 699.1,695.7 699.1,692.6 699.0,690.0 698.9,688.0 698.8,686.7 698.5,685.7 698.3,685.0 697.8,684.3 697.2,683.5 696.6,682.9 696.0,682.5 695.1,682.1 694.3,681.8 693.5,681.7 692.5,681.7 691.7,681.8 690.9,682.1 690.0,682.5 689.4,682.9 688.8,683.5 688.2,684.3 687.7,685.0 687.5,685.7 687.2,686.7 687.1,688.0 687.0,690.0 687.1,692.5 687.1,695.6 687.0,700.0 686.4,735.0 686.3,740.0 686.2,745.0 685.4,785.0 685.3,790.0 685.2,795.0 684.6,845.0 684.5,850.0 684.4,855.0 683.6,905.1 683.5,910.1 683.2,915.1 681.8,943.2 681.1,948.1 679.6,951.8 677.7,954.8 675.9,957.3 674.0,959.2 671.6,961.1 667.8,961.5 665.7,957.7 664.6,953.9 663.7,950.0 663.0,945.3 661.0,925.2 660.6,920.2 660.3,915.1 659.1,875.1 658.9,870.1 658.7,865.1 658.3,853.1 658.1,848.8 658.0,845.9 657.9,843.6 657.7,841.8 657.5,840.5 657.3,839.5 657.0,838.8 656.6,838.2 656.0,837.4 655.5,836.9 654.8,836.5 654.0,836.0 653.2,835.8 652.5,835.7 651.5,835.7 650.8,835.8 650.0,836.0 649.2,836.5 648.5,836.9 648.0,837.4 647.4,838.2 647.0,838.8 646.7,839.5 646.5,840.5 646.3,841.8 646.1,843.6 646.0,845.9 645.9,848.8 645.7,853.1 645.3,865.1 645.1,870.1 644.9,875.1 643.7,905.1 643.4,910.2 642.8,915.3 641.1,927.5 640.2,932.3 638.6,936.3 636.9,939.8 635.5,943.0 634.4,946.6 633.3,951.0 629.5,957.9 626.7,949.7 624.4,937.4 623.5,933.7 622.6,931.7 621.5,930.3 620.3,929.1 618.8,928.2 617.0,927.3 615.6,926.8 614.2,926.8 612.2,927.2 609.8,927.3 607.4,926.8 605.4,926.1 604.1,925.9 603.1,926.1 601.8,926.6 600.8,927.2 600.1,928.1 599.3,929.4 598.5,931.5 597.7,935.4 596.2,945.6 593.0,956.2 589.8,945.6 588.3,935.3 586.8,925.4 585.3,915.3 584.5,910.4 583.6,905.5 582.5,899.4 581.5,895.7 580.6,893.7 579.5,892.3 578.5,891.5 577.6,891.1 575.3,890.6 573.0,887.9 572.4,883.2 572.2,855.0 572.1,850.0 572.1,845.0 571.6,795.0 571.5,790.0 571.4,785.1 570.4,745.1 570.3,740.1 570.2,735.1 569.1,695.1 569.0,690.7 568.9,687.4 568.8,684.8 568.7,682.6 568.5,681.3 568.3,680.4 568.0,679.7 567.6,679.1 567.1,678.3 566.5,677.8 565.9,677.4 565.1,677.0 564.4,676.8 563.7,676.7 562.7,676.7 562.0,676.8 561.3,677.0 560.5,677.4 559.9,677.8 559.3,678.3 558.8,679.1 558.4,679.7 558.1,680.4 557.9,681.3 557.8,682.5 557.8,684.6 557.9,687.3 558.0,690.6 557.9,695.0 557.2,735.0 557.1,740.0 557.0,745.0 556.2,785.0 556.1,790.0 556.0,795.0 555.5,845.0 555.5,850.1 555.3,855.1 553.7,905.1 553.3,910.2 552.7,915.3 551.2,925.5 550.3,930.4 549.1,935.0 547.6,939.7 545.3,944.2 541.0,943.8 538.5,941.7 537.3,940.9 536.5,940.9 535.5,941.1 534.8,941.4 534.2,942.3 533.1,944.4 531.2,946.7 528.4,947.5 526.1,947.5 524.6,947.7 523.0,948.3 521.4,949.1 520.1,950.2 518.9,952.4 517.5,956.0 514.6,959.4 510.1,959.2 506.3,957.6 503.2,956.2 500.9,954.7 498.8,953.1 496.9,950.5 495.3,946.5 494.0,942.1 492.7,939.1 491.4,937.6 489.9,936.6 489.2,936.4 488.4,936.8 486.9,938.0 485.7,939.8 484.9,943.4 483.0,959.5 481.8,964.4 478.2,966.0 474.9,964.9 472.3,963.3 470.0,960.5 468.0,957.5 466.5,955.9 465.0,955.5 462.8,955.5 460.5,955.7 458.1,956.4 455.1,957.5 451.3,957.6 448.6,954.8 447.1,951.8 445.9,949.9 444.7,948.5 443.3,947.4 442.5,947.1 442.0,947.1 441.0,947.5 440.2,948.2 439.4,950.2 438.4,953.5 437.1,956.7 434.9,958.5 431.6,958.5 429.8,955.5 429.5,951.1 429.5,925.0 429.4,920.1 429.0,915.3 427.1,897.4 426.3,894.0 425.3,892.5 423.9,891.6 423.0,891.3 422.1,891.6 420.6,892.6 419.4,893.8 418.7,895.4 418.1,897.9 417.6,900.9 417.2,905.2 414.8,947.4 413.6,952.5 409.5,953.7 406.6,952.4 405.5,952.2 404.4,952.8 402.8,954.1 401.3,956.0 399.9,959.6 397.8,966.1 395.5,971.2 391.2,970.3 389.3,967.4 388.1,965.8 386.7,964.6 384.7,963.0 383.0,959.9 382.4,955.2 380.6,885.1 380.5,880.1 380.4,875.1 378.6,811.1 378.3,807.3 377.7,805.4 376.9,804.1 376.1,803.1 375.4,802.5 374.4,802.0 374.0,801.9 373.6,802.0 372.6,802.5 371.9,803.1 371.1,804.1 370.3,805.4 369.7,807.3 369.3,811.2 367.7,855.1 367.5,860.1 367.4,865.1 365.6,961.1 365.2,965.6 363.4,968.5 359.7,968.5 357.7,965.8 356.8,961.5 355.3,951.4 354.4,947.9 353.1,946.0 351.7,944.8 351.0,944.5 350.3,944.8 348.7,946.1 347.3,947.9 346.0,950.6 344.6,954.5 342.4,958.1 338.8,959.5 335.0,959.5 331.4,957.4 330.0,952.5 329.1,945.3 328.5,940.3 328.0,935.3 326.1,917.4 325.2,913.9 323.9,912.2 322.1,910.9 321.1,910.5 320.3,910.8 318.9,912.0 317.8,913.8 317.1,917.3 315.9,931.4 315.0,936.1 312.0,938.3 308.5,937.7 306.1,935.6 304.6,931.8 303.6,927.7 302.5,924.7 301.1,922.6 299.5,921.0 298.9,920.7 298.0,921.1 296.2,922.7 294.8,924.7 294.1,928.3 292.9,943.5 291.5,948.5 287.9,951.3 283.9,952.4 280.3,953.0 277.2,952.4 269.2,948.4 268.4,948.3 267.4,948.8 265.9,950.0 264.6,951.9 263.7,955.5 262.2,964.6 260.7,970.3 256.3,969.1 254.8,966.3 254.0,965.0 252.7,964.2 250.4,963.0 248.0,960.2 246.9,955.5 244.2,934.4 243.3,930.7 242.0,928.6 240.5,927.0 239.9,926.7 239.0,927.1 237.2,928.7 235.7,930.8 234.8,934.4 233.1,947.6 231.5,952.5 227.8,955.3 223.8,956.5 219.9,956.9 216.3,955.6 213.5,953.9 211.7,953.1 210.5,953.1 209.0,953.6 207.4,954.6 205.2,956.7 202.2,960.1 197.6,962.2 193.2,958.8 190.0,954.5 187.4,951.3 185.1,949.3 183.2,947.9 182.3,947.7 181.2,948.3 179.0,950.5 176.4,952.7 173.7,953.8 170.6,954.3 167.2,952.5 165.3,948.0 163.0,939.6 161.5,935.9 159.5,933.4 157.2,931.4 155.8,930.7 154.8,930.9 153.1,932.2 151.6,934.0 150.6,937.5 149.2,945.7 147.3,950.8 142.9,951.2 139.7,949.7 138.3,949.3 137.6,949.5 136.5,950.4 135.4,952.0 134.3,955.5 132.5,963.8 130.2,970.8 126.1,966.6 125.3,963.4 124.5,961.3 123.3,959.5 121.9,957.8 120.9,957.0 120.1,956.9 118.8,957.1 117.9,957.5 116.9,959.2 115.4,962.4 112.7,965.5 108.5,966.2 104.4,965.8 101.2,965.6 98.7,965.5 97.1,965.5 96.9,965.7"/>
<circle cx="569.5" cy="54.7" r="11.4" fill="#000"/>
<circle cx="797.0" cy="467.0" r="11.4" fill="#000"/>
<circle cx="933.0" cy="594.4" r="11.4" fill="#000"/>
<circle cx="998.5" cy="577.8" r="11.4" fill="#000"/>
<circle cx="1276.4" cy="540.0" r="11.4" fill="#000"/>
<circle cx="1338.6" cy="643.6" r="11.4" fill="#000"/>
<circle cx="1534.6" cy="632.0" r="11.4" fill="#000"/>
<circle cx="567.6" cy="649.0" r="11.4" fill="#000"/>
<circle cx="792.0" cy="779.6" r="11.4" fill="#000"/>
<circle cx="927.6" cy="894.0" r="11.4" fill="#000"/>
<circle cx="1267.6" cy="862.0" r="11.4" fill="#000"/>
<circle cx="1333.0" cy="939.0" r="11.4" fill="#000"/>
<polygon fill="#000" points="692.8,637.2 707.3,654.4 692.8,671.6 678.3,654.4"/>
<polygon fill="#000" points="650.4,791.2 664.9,808.4 650.4,825.6 635.9,808.4"/>
<polygon fill="#000" points="755.8,888.2 770.3,905.4 755.8,922.6 741.3,905.4"/>
<polygon fill="#000" points="988.0,893.4 1002.5,910.6 988.0,927.8 973.5,910.6"/>
<polygon fill="#000" points="1296.6,785.2 1311.1,802.4 1296.6,819.6 1282.1,802.4"/>
<line x1="101.2" y1="1204" x2="101.2" y2="1229" stroke="#141414" stroke-width="4.5"/>
<line x1="233.2" y1="1204" x2="233.2" y2="1218" stroke="#141414" stroke-width="4.5"/>
<line x1="365.2" y1="1204" x2="365.2" y2="1229" stroke="#141414" stroke-width="4.5"/>
<line x1="497.3" y1="1204" x2="497.3" y2="1218" stroke="#141414" stroke-width="4.5"/>
<line x1="629.3" y1="1204" x2="629.3" y2="1229" stroke="#141414" stroke-width="4.5"/>
<line x1="761.3" y1="1204" x2="761.3" y2="1218" stroke="#141414" stroke-width="4.5"/>
<line x1="893.4" y1="1204" x2="893.4" y2="1229" stroke="#141414" stroke-width="4.5"/>
<line x1="1025.4" y1="1204" x2="1025.4" y2="1218" stroke="#141414" stroke-width="4.5"/>
<line x1="1157.4" y1="1204" x2="1157.4" y2="1229" stroke="#141414" stroke-width="4.5"/>
<line x1="1289.4" y1="1204" x2="1289.4" y2="1218" stroke="#141414" stroke-width="4.5"/>
<line x1="1421.5" y1="1204" x2="1421.5" y2="1229" stroke="#141414" stroke-width="4.5"/>
<line x1="1553.5" y1="1204" x2="1553.5" y2="1218" stroke="#141414" stroke-width="4.5"/>
<line x1="1685.5" y1="1204" x2="1685.5" y2="1229" stroke="#141414" stroke-width="4.5"/>
<text x="101.7" y="1282" font-family="'Liberation Sans', sans-serif" font-size="50" text-anchor="middle" fill="#0d0d0d">10</text>
<text x="365.8" y="1282" font-family="'Liberation Sans', sans-serif" font-size="50" text-anchor="middle" fill="#0d0d0d">20</text>
<text x="629.8" y="1282" font-family="'Liberation Sans', sans-serif" font-size="50" text-anchor="middle" fill="#0d0d0d">30</text>
<text x="893.9" y="1282" font-family="'Liberation Sans', sans-serif" font-size="50" text-anchor="middle" fill="#0d0d0d">40</text>
<text x="1157.9" y="1282" font-family="'Liberation Sans', sans-serif" font-size="50" text-anchor="middle" fill="#0d0d0d">50</text>
<text x="1422.0" y="1282" font-family="'Liberation Sans', sans-serif" font-size="50" text-anchor="middle" fill="#0d0d0d">60</text>
<text x="1686.0" y="1282" font-family="'Liberation Sans', sans-serif" font-size="50" text-anchor="middle" fill="#0d0d0d">70</text>
<text x="742" y="1343.5" font-family="'Liberation Serif', serif" font-size="60.5" fill="#000">2θ<tspan dx="4.5"> / degree</tspan></text>
<text transform="translate(58,808.5) rotate(-90)" font-family="'Liberation Serif', serif" font-size="60.5" fill="#000">Intensity / a.u.</text>
<rect x="919.4" y="31.6" width="759.2" height="371.8" fill="#fff" stroke="#757575" stroke-width="3"/>
<line x1="964.5" y1="96" x2="1099.5" y2="96" stroke="#000" stroke-width="14.5" stroke-linecap="round"/>
<line x1="964.5" y1="215" x2="1099.5" y2="215" stroke="#fe0000" stroke-width="14.5" stroke-linecap="round"/>
<text x="1120" y="116" font-family="'Liberation Serif', serif" font-size="77" fill="#000">CNF/TiO<tspan dy="22" dx="1.5" font-size="82">2</tspan></text>
<text x="1120" y="236" font-family="'Liberation Serif', serif" font-size="77" fill="#000">CNF/TiO<tspan dy="22" dx="1.5" font-size="82">2</tspan><tspan dy="-22">@CoS</tspan></text>
<circle cx="977.7" cy="346.2" r="12" fill="#000"/>
<text x="1030" y="364.5" font-family="'Liberation Serif', serif" font-size="77" fill="#000">TiO<tspan dy="22" dx="1.5" font-size="82">2</tspan></text>
<polygon fill="#000" points="1413.0,329.4 1427.2,346.4 1413.0,363.4 1398.8,346.4"/>
<text x="1475" y="364.5" font-family="'Liberation Serif', serif" font-size="77" fill="#000">CoS</text>
</svg>
</body>
</html>
